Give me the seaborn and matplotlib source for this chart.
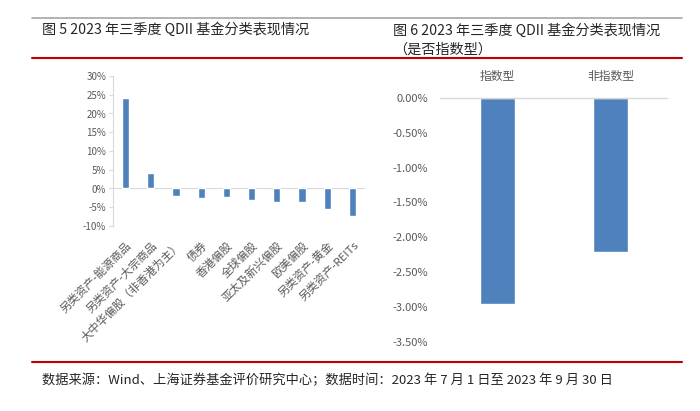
import matplotlib
matplotlib.use('Agg')
import matplotlib.pyplot as plt
import seaborn as sns
import pandas as pd
from matplotlib.lines import Line2D
from matplotlib.ticker import FuncFormatter

# 数据
categorias = ['另类资产-能源商品', '另类资产-大宗商品', '大中华偏股（非香港为主）', '债券',
              '香港偏股', '全球偏股', '亚太及新兴偏股', '欧美偏股', '另类资产-黄金', '另类资产-REITs']
retornos = [24.0, 4.0, -2.0, -2.5, -2.4, -3.2, -3.7, -3.7, -5.5, -7.3]

tipos = ['指数型', '非指数型']
retornos_tipo = [-2.95, -2.21]

titulo_esq = '图 5 2023 年三季度 QDII 基金分类表现情况'
titulo_dir = '图 6 2023 年三季度 QDII 基金分类表现情况\n（是否指数型）'
fonte = '数据来源：Wind、上海证券基金评价研究中心；数据时间：2023 年 7 月 1 日至 2023 年 9 月 30 日'

sns.set_style('white')
plt.rcParams['font.family'] = ['Noto Sans CJK SC', 'DejaVu Sans']
plt.rcParams['axes.unicode_minus'] = False

azul = '#4F81BD'
cinza = '#595959'
linha = '#D9D9D9'

fig = plt.figure(figsize=(7, 4.11), dpi=100)
W, H = 700, 411

def caixa(x0, y0, x1, y1):
    return [x0 / W, 1 - y1 / H, (x1 - x0) / W, (y1 - y0) / H]

# linhas do cabeçalho e rodapé
fig.add_artist(Line2D([32 / W, 682 / W], [1 - 18 / H] * 2, color='#A6A6A6', lw=1.2))
fig.add_artist(Line2D([32 / W, 682 / W], [1 - 58 / H] * 2, color='#C00000', lw=1.5))
fig.add_artist(Line2D([32 / W, 682 / W], [1 - 362 / H] * 2, color='#C00000', lw=1.5))

fig.text(42 / W, 1 - 30 / H, titulo_esq, fontsize=10.2, va='center', ha='left')
fig.text(393 / W, 1 - 40 / H, titulo_dir, fontsize=10.2, va='center', ha='left', linespacing=1.45)
fig.text(42 / W, 1 - 380 / H, fonte, fontsize=9.5, va='center', ha='left', style='italic')

# gráfico da esquerda
ax1 = fig.add_axes(caixa(113, 76, 365, 226))
df1 = pd.DataFrame({'cat': categorias, 'ret': retornos})
sns.barplot(data=df1, x='cat', y='ret', color=azul, width=0.29, ax=ax1, saturation=1)
ax1.set_ylim(-10, 30)
ax1.set_xlim(-0.5, 9.5)
ax1.set_yticks(range(-10, 31, 5))
ax1.yaxis.set_major_formatter(FuncFormatter(lambda v, p: f'{v:.0f}%'))
ax1.axhline(0, color=linha, lw=0.8, zorder=0)
for s in ['top', 'right', 'bottom']:
    ax1.spines[s].set_visible(False)
ax1.spines['left'].set_color(linha)
ax1.tick_params(axis='y', left=True, length=3, color=linha, labelsize=7, labelcolor=cinza, pad=2)
ax1.tick_params(axis='x', bottom=False, labelsize=8.2, labelcolor=cinza, pad=6)
for t in ax1.get_xticklabels():
    t.set_rotation(45)
    t.set_ha('right')
    t.set_rotation_mode('anchor')
ax1.set_xlabel('')
ax1.set_ylabel('')

# gráfico da direita
ax2 = fig.add_axes(caixa(440, 97.7, 667, 342))
df2 = pd.DataFrame({'tipo': tipos, 'ret': retornos_tipo})
sns.barplot(data=df2, x='tipo', y='ret', color=azul, width=0.31, ax=ax2, saturation=1)
ax2.set_ylim(-3.5, 0)
ax2.set_xlim(-0.51, 1.5)
ax2.set_yticks([0, -0.5, -1, -1.5, -2, -2.5, -3, -3.5])
ax2.yaxis.set_major_formatter(FuncFormatter(lambda v, p: f'{v:.2f}%'.replace('-0.00', '0.00')))
ax2.xaxis.tick_top()
for s in ['left', 'right', 'bottom']:
    ax2.spines[s].set_visible(False)
ax2.spines['top'].set_color(linha)
ax2.spines['top'].set_linewidth(1)
ax2.tick_params(axis='y', left=False, labelsize=8, labelcolor=cinza, pad=5)
ax2.tick_params(axis='x', top=False, labelsize=8.5, labelcolor=cinza, pad=7)
ax2.set_xlabel('')
ax2.set_ylabel('')

fig.savefig('out.png', dpi=100)
